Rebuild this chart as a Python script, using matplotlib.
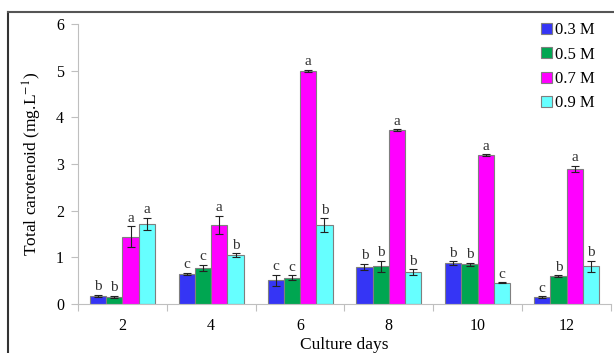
import numpy as np
import matplotlib
matplotlib.use("Agg")
import matplotlib.pyplot as plt
from matplotlib.lines import Line2D

# ---- data ----
days = ["2", "4", "6", "8", "10", "12"]
series = ["0.3 M", "0.5 M", "0.7 M", "0.9 M"]
c03 = [0.17, 0.64, 0.51, 0.79, 0.88, 0.15]
c05 = [0.15, 0.77, 0.56, 0.81, 0.85, 0.60]
c07 = [1.44, 1.69, 5.00, 3.73, 3.19, 2.89]
c09 = [1.72, 1.05, 1.69, 0.68, 0.45, 0.81]
e03 = [0.03, 0.03, 0.12, 0.07, 0.04, 0.02]
e05 = [0.03, 0.07, 0.05, 0.12, 0.03, 0.02]
e07 = [0.23, 0.20, 0.02, 0.02, 0.02, 0.07]
e09 = [0.13, 0.04, 0.15, 0.07, 0.01, 0.12]
l03 = ["b", "c", "c", "b", "b", "c"]
l05 = ["b", "c", "c", "b", "b", "b"]
l07 = ["a", "a", "a", "a", "a", "a"]
l09 = ["a", "b", "b", "b", "c", "b"]

colors = ["#3535f5", "#00a651", "#ff00ff", "#66ffff"]

plt.rcParams["font.family"] = ["Liberation Serif", "DejaVu Serif"]
plt.rcParams["mathtext.fontset"] = "stix"

fig = plt.figure(figsize=(6.14, 3.53), dpi=100)
ax = fig.add_axes([0.127, 0.139, 0.868, 0.793])

x = np.arange(len(days))
w = 0.183
vals = [c03, c05, c07, c09]
errs = [e03, e05, e07, e09]
lets = [l03, l05, l07, l09]
for i in range(4):
    pos = x + (i - 1.5) * w
    ax.bar(pos, vals[i], w, color=colors[i], edgecolor="#7f7f7f", linewidth=0.8,
           label=series[i], zorder=2)
    ax.errorbar(pos, vals[i], yerr=errs[i], fmt="none", ecolor="#222222",
                elinewidth=0.8, capsize=3, capthick=0.8, zorder=3)
    for p, v, e, t in zip(pos, vals[i], errs[i], lets[i]):
        ax.text(p, v + e + 0.03, t, ha="center", va="bottom", fontsize=11,
                color="#333333")

ax.set_xlim(-0.5, len(days) - 0.5)
ax.set_ylim(0, 6)
ax.set_yticks(range(0, 7))
ax.set_xticks(np.arange(-0.5, len(days)), minor=False)
ax.set_xticklabels([])
ax.set_xticks(x, minor=True)
ax.set_xticklabels(days, minor=True)
ax.tick_params(axis="x", which="minor", length=0, labelsize=11.5, pad=10)
ax.tick_params(axis="x", which="major", length=5, color="#bfbfbf", direction="out")
ax.tick_params(axis="y", length=5, color="#bfbfbf", labelsize=11.5, pad=5)

for s in ["top", "right"]:
    ax.spines[s].set_visible(False)
for s in ["left", "bottom"]:
    ax.spines[s].set_color("#bfbfbf")

ax.set_ylabel(r"Total carotenoid (mg.L$^{-1}$)", fontsize=12.5, labelpad=9)
ax.set_xlabel("Culture days", fontsize=12.5, labelpad=2)

leg = ax.legend(loc="upper right", bbox_to_anchor=(0.983, 1.03), frameon=False,
                fontsize=12, handlelength=0.65, handleheight=0.65,
                handletextpad=0.2, labelspacing=0.5, borderaxespad=0)

# outer frame of the original figure
fig.add_artist(Line2D([8 / 614, 8 / 614], [0, 1 - 12 / 353], color="#333333", lw=1.5))
fig.add_artist(Line2D([8 / 614, 1], [1 - 12 / 353, 1 - 12 / 353], color="#555555", lw=1.5))

fig.savefig("out.png", dpi=100)
